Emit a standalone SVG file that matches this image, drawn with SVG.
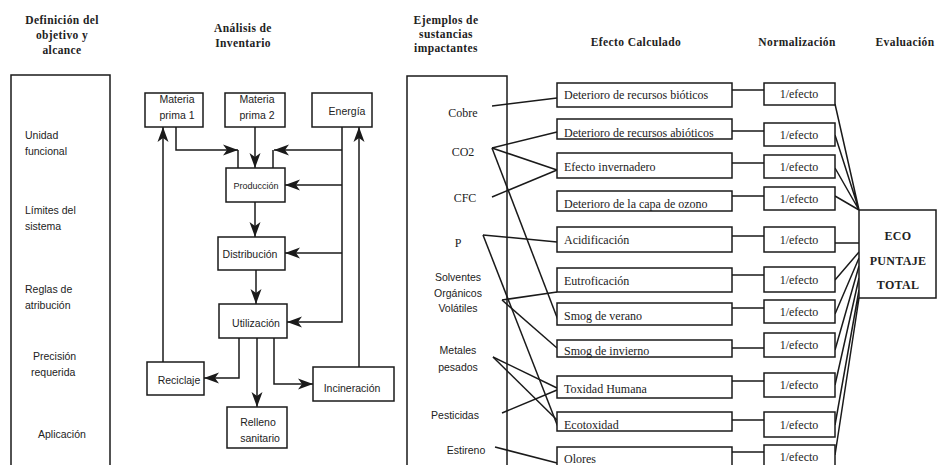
<svg xmlns="http://www.w3.org/2000/svg" width="938" height="465" viewBox="0 0 938 465">
<defs>
<marker id="arr" markerUnits="userSpaceOnUse" markerWidth="16" markerHeight="12" refX="15" refY="6" orient="auto">
<path d="M0,0.5 L15,6 L0,11.5 L4,6 Z" fill="#1a1a1a"/>
</marker>
<style>
.bx{fill:#fff;stroke:#1a1a1a;stroke-width:1.5}
.ln{fill:none;stroke:#1a1a1a;stroke-width:1.5}
.ar{fill:none;stroke:#1a1a1a;stroke-width:1.5;marker-end:url(#arr)}
.hd{font-family:"Liberation Serif",serif;font-weight:bold;font-size:11.5px;letter-spacing:0.4px;fill:#222;text-anchor:middle}
.sr{font-family:"Liberation Serif",serif;font-size:12px;fill:#222}
.ss{font-family:"Liberation Sans",sans-serif;font-size:10.5px;fill:#222}
.c{text-anchor:middle}
.eco{font-family:"Liberation Serif",serif;font-weight:bold;font-size:12px;letter-spacing:0.3px;fill:#222;text-anchor:middle}
</style>
</defs>
<rect width="938" height="465" fill="#fff"/>

<g id="headers">
<text class="hd" x="62" y="24">Definición del</text>
<text class="hd" x="62" y="39">objetivo y</text>
<text class="hd" x="62" y="54">alcance</text>
<text class="hd" x="243" y="32">Análisis de</text>
<text class="hd" x="243" y="47">Inventario</text>
<text class="hd" x="446" y="24">Ejemplos de</text>
<text class="hd" x="446" y="38">sustancias</text>
<text class="hd" x="446" y="52">impactantes</text>
<text class="hd" x="636" y="46">Efecto Calculado</text>
<text class="hd" x="797" y="46">Normalización</text>
<text class="hd" x="905" y="46">Evaluación</text>
</g>

<g id="definicion">
<rect class="bx" x="11" y="75" width="99" height="400"/>
<text class="ss" x="25" y="139">Unidad</text>
<text class="ss" x="25" y="155">funcional</text>
<text class="ss" x="25" y="214">Límites del</text>
<text class="ss" x="25" y="230">sistema</text>
<text class="ss" x="25" y="293">Reglas de</text>
<text class="ss" x="25" y="309">atribución</text>
<text class="ss" x="33" y="360">Precisión</text>
<text class="ss" x="31" y="376">requerida</text>
<text class="ss" x="38" y="438">Aplicación</text>
</g>

<g id="connectors">
<!-- inventory -->
<path class="ar" d="M176,127 V150 H238"/>
<path class="ln" d="M238,150 V168"/>
<path class="ar" d="M255,127 V168"/>
<path class="ar" d="M342,127 V322 H287"/>
<path class="ar" d="M342,150 H274"/>
<path class="ln" d="M273,150 V168"/>
<path class="ar" d="M342,185 H285"/>
<path class="ar" d="M342,253 H285"/>
<path class="ar" d="M359,367 V127"/>
<path class="ar" d="M163,362 V127"/>
<path class="ar" d="M255,202 V237"/>
<path class="ar" d="M256,270 V304"/>
<path class="ar" d="M239,338 V378 H204"/>
<path class="ar" d="M257,338 V407"/>
<path class="ar" d="M274,338 V384 H313"/>
<!-- substances to effects -->
<path class="ln" d="M492,106 L557,98"/>
<path class="ln" d="M492,148 L557,132"/>
<path class="ln" d="M492,148 L557,170"/>
<path class="ln" d="M492,148 L558,320"/>
<path class="ln" d="M492,197 L557,170"/>
<path class="ln" d="M483,235 L557,242"/>
<path class="ln" d="M483,235 L558,427"/>
<path class="ln" d="M502,300 L557,292"/>
<path class="ln" d="M502,300 L557,348"/>
<path class="ln" d="M493,357 L557,388"/>
<path class="ln" d="M493,357 L557,420"/>
<path class="ln" d="M502,413 L557,390"/>
<path class="ln" d="M495,447 L557,463"/>
<!-- effects to normalization -->
<path class="ln" d="M732,90 H764 M732,131 H764 M732,163 H764 M732,196 H764 M732,236 H764 M732,275 H764 M732,308 H764 M732,348 H764 M732,381 H764 M732,420 H764 M732,452 H764"/>
<!-- normalization to eco -->
<path class="ln" d="M835,104 L859,210 M835,135 L859,210 M835,168 L859,210 M835,196 L859,210 M835,243 L859,243 M835,280 L859,252 M835,314 L859,258 M835,350 L859,266 M835,385 L859,278 M835,425 L859,290 M835,455 L859,298"/>
</g>

<g id="inventario">
<g id="mp1"><rect class="bx" x="145" y="93" width="58" height="34"/><text class="ss c" x="177" y="103">Materia</text><text class="ss c" x="177" y="119">prima 1</text></g>
<g id="mp2"><rect class="bx" x="225" y="93" width="60" height="34"/><text class="ss c" x="257" y="103">Materia</text><text class="ss c" x="257" y="119">prima 2</text></g>
<g id="energia"><rect class="bx" x="312" y="93" width="60" height="34"/><text class="ss c" x="347" y="115">Energía</text></g>
<g id="produccion"><rect class="bx" x="226" y="168" width="59" height="34"/><text class="ss c" x="256" y="189" style="font-size:9px">Producción</text></g>
<g id="distribucion"><rect class="bx" x="218" y="237" width="67" height="33"/><text class="ss c" x="250" y="258">Distribución</text></g>
<g id="utilizacion"><rect class="bx" x="219" y="304" width="68" height="34"/><text class="ss c" x="256" y="327">Utilización</text></g>
<g id="reciclaje"><rect class="bx" x="147" y="362" width="57" height="33"/><text class="ss c" x="179" y="384">Reciclaje</text></g>
<g id="relleno"><rect class="bx" x="227" y="407" width="60" height="41"/><text class="ss c" x="258" y="426">Relleno</text><text class="ss c" x="260" y="442">sanitario</text></g>
<g id="incineracion"><rect class="bx" x="313" y="367" width="81" height="34"/><text class="ss c" x="352" y="392">Incineración</text></g>
</g>

<g id="sustancias">
<rect class="bx" x="407" y="76" width="100" height="400" style="fill:none"/>
<text class="sr c" x="463" y="117">Cobre</text>
<text class="sr c" x="463" y="156">CO2</text>
<text class="sr c" x="465" y="202">CFC</text>
<text class="sr c" x="458" y="247">P</text>
<text class="ss c" x="458" y="281">Solventes</text>
<text class="ss c" x="458" y="297">Orgánicos</text>
<text class="ss c" x="458" y="312">Volátiles</text>
<text class="ss c" x="458" y="354">Metales</text>
<text class="ss c" x="458" y="371">pesados</text>
<text class="ss c" x="455" y="419">Pesticidas</text>
<text class="ss c" x="466" y="454">Estireno</text>
</g>

<g id="efectos">
<g id="e1"><rect class="bx" x="557" y="83" width="175" height="24"/><text class="sr" x="564" y="99">Deterioro de recursos bióticos</text></g>
<g id="e2"><rect class="bx" x="557" y="119" width="175" height="20"/><text class="sr" x="564" y="137">Deterioro de recursos abióticos</text></g>
<g id="e3"><rect class="bx" x="557" y="153" width="175" height="25"/><text class="sr" x="564" y="171">Efecto invernadero</text></g>
<g id="e4"><rect class="bx" x="557" y="191" width="175" height="20"/><text class="sr" x="564" y="208">Deterioro de la capa de ozono</text></g>
<g id="e5"><rect class="bx" x="557" y="227" width="175" height="25"/><text class="sr" x="564" y="244">Acidificación</text></g>
<g id="e6"><rect class="bx" x="557" y="268" width="175" height="24"/><text class="sr" x="564" y="285">Eutroficación</text></g>
<g id="e7"><rect class="bx" x="557" y="303" width="175" height="22"/><text class="sr" x="564" y="320">Smog de verano</text></g>
<g id="e8"><rect class="bx" x="557" y="340" width="175" height="17"/><text class="sr" x="564" y="355">Smog de invierno</text></g>
<g id="e9"><rect class="bx" x="557" y="376" width="175" height="22"/><text class="sr" x="564" y="393">Toxidad Humana</text></g>
<g id="e10"><rect class="bx" x="557" y="412" width="175" height="19"/><text class="sr" x="564" y="429">Ecotoxidad</text></g>
<g id="e11"><rect class="bx" x="557" y="447" width="175" height="30"/><text class="sr" x="564" y="463">Olores</text></g>
</g>

<g id="normalizacion">
<g id="n1"><rect class="bx" x="764" y="83" width="71" height="22"/><text class="sr c" x="799" y="98">1/efecto</text></g>
<g id="n2"><rect class="bx" x="764" y="123" width="71" height="23"/><text class="sr c" x="799" y="139">1/efecto</text></g>
<g id="n3"><rect class="bx" x="764" y="155" width="71" height="23"/><text class="sr c" x="799" y="171">1/efecto</text></g>
<g id="n4"><rect class="bx" x="764" y="187" width="71" height="23"/><text class="sr c" x="799" y="203">1/efecto</text></g>
<g id="n5"><rect class="bx" x="764" y="227" width="71" height="25"/><text class="sr c" x="799" y="244">1/efecto</text></g>
<g id="n6"><rect class="bx" x="764" y="267" width="71" height="25"/><text class="sr c" x="799" y="284">1/efecto</text></g>
<g id="n7"><rect class="bx" x="764" y="300" width="71" height="23"/><text class="sr c" x="799" y="316">1/efecto</text></g>
<g id="n8"><rect class="bx" x="764" y="333" width="71" height="24"/><text class="sr c" x="799" y="349">1/efecto</text></g>
<g id="n9"><rect class="bx" x="764" y="373" width="71" height="24"/><text class="sr c" x="799" y="389">1/efecto</text></g>
<g id="n10"><rect class="bx" x="764" y="412" width="71" height="25"/><text class="sr c" x="799" y="429">1/efecto</text></g>
<g id="n11"><rect class="bx" x="764" y="445" width="71" height="30"/><text class="sr c" x="799" y="461">1/efecto</text></g>
</g>

<g id="eco">
<rect class="bx" x="859" y="210" width="77" height="88"/>
<text class="eco" x="898" y="240">ECO</text>
<text class="eco" x="898" y="265">PUNTAJE</text>
<text class="eco" x="898" y="289">TOTAL</text>
</g>
</svg>
